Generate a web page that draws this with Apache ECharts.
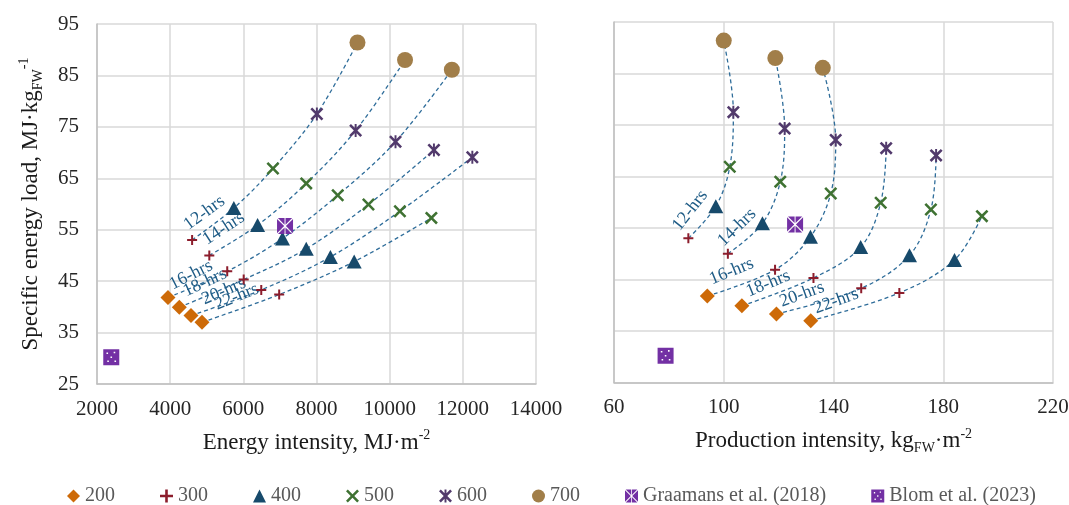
<!DOCTYPE html>
<html>
<head>
	<meta charset="UTF-8">
	<title>Specific energy load vs intensity</title>
	<script src="https://cdn.jsdelivr.net/npm/echarts@6/dist/echarts.min.js" type="text/javascript"></script>
	<style>html, body { margin: 0; padding: 0; background: #fff; }</style>
</head>
<body>
	<div id="main" style="width: 1069px;height:505px;"></div>
	<script type="text/javascript">
		// photoperiods (one dashed curve each) and light levels (one marker each)
		var photoperiods = ['12-hrs', '14-hrs', '16-hrs', '18-hrs', '20-hrs', '22-hrs'];
		var levels = ['200', '300', '400', '500', '600', '700'];

		// specific energy load, MJ/kg FW, per level 200..700 (null = not run)
		var load12 = [null, 53.0, 59.2, 66.9, 77.5, 91.4];
		var load14 = [null, 50.0, 55.9, 64.0, 74.3, 88.0];
		var load16 = [41.8, 46.9, 53.3, 61.7, 72.1, 86.1];
		var load18 = [39.9, 45.3, 51.3, 59.9, 70.5, null];
		var load20 = [38.3, 43.3, 49.7, 58.6, 69.1, null];
		var load22 = [37.0, 42.4, 48.8, 57.3, null, null];

		// energy intensity, MJ/m2
		var energy12 = [null, 4600, 5740, 6810, 8010, 9120];
		var energy14 = [null, 5070, 6390, 7720, 9070, 10420];
		var energy16 = [3940, 5560, 7070, 8580, 10160, 11700];
		var energy18 = [4250, 6010, 7720, 9420, 11210, null];
		var energy20 = [4570, 6490, 8380, 10280, 12260, null];
		var energy22 = [4870, 6980, 9030, 11140, null, null];

		// production intensity, kg FW/m2
		var prod12 = [null, 87.1, 97.1, 102.2, 103.5, 100.0];
		var prod14 = [null, 101.5, 114.1, 120.6, 122.2, 118.8];
		var prod16 = [94.0, 118.7, 131.6, 139.0, 140.8, 136.1];
		var prod18 = [106.6, 132.7, 149.9, 157.2, 159.2, null];
		var prod20 = [119.2, 150.1, 167.7, 175.5, 177.4, null];
		var prod22 = [131.7, 164.0, 184.1, 194.1, null, null];

		// literature points
		var refNames = ['Graamans et al. (2018)', 'Blom et al. (2023)'];
		var refEnergy = [7140, 2390];
		var refProd = [126.0, 78.8];
		var refLoad = [55.7, 30.2];

		var loads = [load12, load14, load16, load18, load20, load22];
		var energies = [energy12, energy14, energy16, energy18, energy20, energy22];
		var prods = [prod12, prod14, prod16, prod18, prod20, prod22];

		var serif = "'Liberation Serif', 'Times New Roman', 'DejaVu Serif', serif";

		var plusPath = 'path://M4,0H6V4H10V6H6V10H4V6H0V4H4Z';
		var xPath = 'path://M1.4,0L5,3.6L8.6,0L10,1.4L6.4,5L10,8.6L8.6,10L5,6.4L1.4,10L0,8.6L3.6,5L0,1.4Z';
		var starPath = xPath + 'M4.25,0H5.75V10H4.25Z';
		var graamansPath = 'path://M0,1.1L8.9,10L0,18.9ZM20,1.1L20,18.9L11.1,10ZM1.1,0L9.4,0L9.4,8.3ZM10.6,0L18.9,0L10.6,8.3Z' +
			'M1.1,20L9.4,11.7L9.4,20ZM10.6,11.7L18.9,20L10.6,20Z';
		var blomPath = 'path://M0,0H20V20H0Z' +
			'M4,4V6H6V4ZM13,3V5H15V3ZM9,9V11H11V9ZM5,14V16H7V14ZM14,14V16H16V14Z';

		var marks = [
			{ symbol: 'diamond', size: 15, color: '#CD6A08' },
			{ symbol: plusPath, size: 10, color: '#8C1D2C' },
			{ symbol: 'triangle', size: [15, 14], color: '#174A6B' },
			{ symbol: xPath, size: 13, color: '#3F7232' },
			{ symbol: starPath, size: 13, color: '#523A6C' },
			{ symbol: 'circle', size: 16, color: '#A17E49' }
		];
		var refMarks = [
			{ symbol: graamansPath, size: 16, color: '#7330A4' },
			{ symbol: blomPath, size: 16, color: '#7330A4' }
		];

		// curve label placement: [rotate, along the curve, above the curve]
		var labelPos = [
			[[36, 3, 5], [33, 4, 5], [27, 8, 0], [25, 11, 2], [23, 17, 0], [22, 19, 1]],
			[[52, 0, 6], [44, 2, 3], [22, 9, 4], [22, 10, 1], [20, 8, 0], [20, 8, 0]]
		];

		var series = [];
		[energies, prods].forEach(function(xs, c) {
			photoperiods.forEach(function(p, i) {
				var pts = [];
				for (var j = 0; j < levels.length; j++) {
					if (loads[i][j] != null) pts.push([xs[i][j], loads[i][j]]);
				}
				var lp = labelPos[c][i];
				pts[0] = { value: pts[0], label: { show: true, formatter: p, rotate: lp[0], offset: [lp[1], -lp[2]] } };
				series.push({
					type: 'line', xAxisIndex: c, yAxisIndex: c, data: pts,
					smooth: 0.35, symbol: 'circle', symbolSize: 1, showSymbol: true,
					itemStyle: { color: 'rgba(0,0,0,0)' },
					lineStyle: { color: '#2F6D9A', width: 1.3, type: [4, 3] },
					label: { show: false, position: [0, 0], align: 'left', verticalAlign: 'bottom',
						color: '#1F5C86', fontSize: 18, fontFamily: serif },
					silent: true, z: 1
				});
			});
			levels.forEach(function(lv, j) {
				var pts = [];
				for (var i = 0; i < photoperiods.length; i++) {
					if (loads[i][j] != null) pts.push([xs[i][j], loads[i][j]]);
				}
				series.push({
					type: 'scatter', name: lv, xAxisIndex: c, yAxisIndex: c, data: pts,
					symbol: marks[j].symbol, symbolSize: marks[j].size,
					itemStyle: { color: marks[j].color, opacity: 1 }, z: 3
				});
			});
			var refX = c === 0 ? refEnergy : refProd;
			refNames.forEach(function(nm, k) {
				series.push({
					type: 'scatter', name: nm, xAxisIndex: c, yAxisIndex: c, data: [[refX[k], refLoad[k]]],
					symbol: refMarks[k].symbol, symbolSize: refMarks[k].size,
					itemStyle: { color: refMarks[k].color, opacity: 1 }, z: 3
				});
			});
		});

		var rich = {
			sup: { fontSize: 14, lineHeight: 14, verticalAlign: 'top', fontFamily: serif, color: '#1a1a1a' },
			sub: { fontSize: 14, lineHeight: 14, verticalAlign: 'bottom', fontFamily: serif, color: '#1a1a1a' }
		};
		var nameStyle = { fontSize: 23, lineHeight: 28, fontFamily: serif, color: '#1a1a1a', rich: rich };
		var gridLine = { lineStyle: { color: '#d9d9d9', width: 1.5 } };
		var axisLine = { show: true, onZero: false, lineStyle: { color: '#bfbfbf', width: 1.5 } };
		var tickLabel = { color: '#262626', fontSize: 21, fontFamily: serif, formatter: function(v) { return String(v); } };

		var myChart = echarts.init(document.getElementById('main'));
		myChart.setOption({
			animation: false,
			backgroundColor: '#fff',
			grid: [
				{ left: 97, right: 533, top: 24, bottom: 121, outerBoundsMode: 'none' },
				{ left: 614, right: 16, top: 22, bottom: 122.5, outerBoundsMode: 'none' }
			],
			legend: {
				left: 62, top: 481, itemGap: 45, itemWidth: 13, itemHeight: 13,
				textStyle: { color: '#595959', fontSize: 20, fontFamily: serif },
				data: [
					{ name: '200', icon: 'diamond' },
					{ name: '300', icon: plusPath },
					{ name: '400', icon: 'triangle' },
					{ name: '500', icon: xPath },
					{ name: '600', icon: starPath },
					{ name: '700', icon: 'circle' },
					{ name: refNames[0], icon: graamansPath },
					{ name: refNames[1], icon: blomPath }
				]
			},
			xAxis: [{
				type: 'value', gridIndex: 0, min: 2000, max: 14000, interval: 2000,
				axisLine: axisLine, axisTick: { show: false }, splitLine: gridLine,
				axisLabel: Object.assign({ margin: 14.5 }, tickLabel),
				name: 'Energy intensity, MJ·m{sup|-2}', nameLocation: 'middle', nameGap: 44.5,
				nameTextStyle: nameStyle
			}, {
				type: 'value', gridIndex: 1, min: 60, max: 220, interval: 40,
				axisLine: axisLine, axisTick: { show: false }, splitLine: gridLine,
				axisLabel: Object.assign({ margin: 14.5 }, tickLabel),
				name: 'Production intensity, kg{sub|FW}·m{sup|-2}', nameLocation: 'middle', nameGap: 44.5,
				nameTextStyle: nameStyle
			}],
			yAxis: [{
				type: 'value', gridIndex: 0, min: 25, max: 95, interval: 10,
				axisLine: axisLine, axisTick: { show: false }, splitLine: gridLine,
				axisLabel: Object.assign({ margin: 18 }, tickLabel),
				name: 'Specific energy load, MJ·kg{sub|FW}{sup|-1}', nameLocation: 'middle', nameGap: 52,
				nameTextStyle: nameStyle
			}, {
				type: 'value', gridIndex: 1, min: 25, max: 95, interval: 10,
				axisLine: axisLine, axisTick: { show: false }, splitLine: gridLine,
				axisLabel: { show: false }
			}],
			series: series
		});
	</script>
</body>
</html>
